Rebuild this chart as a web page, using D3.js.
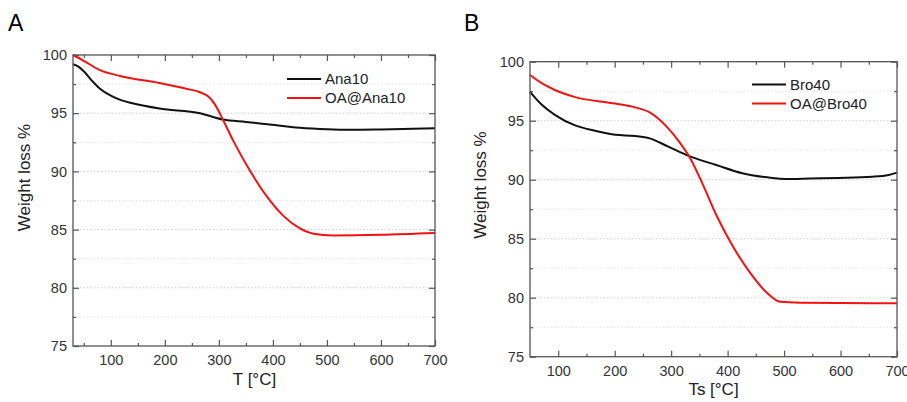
<!DOCTYPE html>
<html>
<head>
	<title>TGA curves</title>
</head>
<style type="text/css">
	html, body {margin:0px; padding:0px; background:#fff;}
	svg {display:block; font-family:"Liberation Sans", Arial, sans-serif;}
</style>
<body>

<svg width="907" height="402"></svg>

<script src="https://d3js.org/d3.v7.min.js"></script>
<script type="text/javascript">

	// values: [temperature, weight %]
	const ana10 = [[30,99.2],[40,99.0],[50,98.6],[65,97.8],[80,97.1],[100,96.5],[120,96.1],[140,95.85],
		[190,95.4],[265,95.0],[308,94.45],[350,94.25],[390,94.05],[450,93.75],[500,93.62],[542,93.57],
		[600,93.6],[700,93.7]];
	const oaAna10 = [[30,100],[50,99.5],[80,98.7],[117,98.2],[190,97.6],[240,97.1],[265,96.8],
		[280,96.45],[292,95.8],[308,94.4],[327,92.6],[357,90.1],[388,87.9],[419,86.2],[450,85.1],
		[475,84.65],[511,84.5],[600,84.55],[700,84.7]];
	const bro40 = [[50,97.45],[70,96.4],[94,95.5],[130,94.6],[165,94.15],[201,93.8],[236,93.7],
		[262,93.5],[295,92.8],[332,92.0],[380,91.25],[426,90.55],[470,90.2],[507,90.05],[546,90.1],
		[596,90.15],[656,90.25],[685,90.4],[700,90.6]];
	const oaBro40 = [[50,98.87],[70,98.2],[94,97.6],[130,97.0],[201,96.45],[236,96.13],[262,95.7],
		[292,94.5],[316,93.1],[334,91.8],[357,89.5],[381,86.9],[410,84.3],[440,82.1],[470,80.4],
		[493,79.66],[529,79.58],[600,79.55],[700,79.53]];

	const xTicks = [100, 200, 300, 400, 500, 600, 700];
	const xMinor = [50, 150, 250, 350, 450, 550, 650];
	const yTicks = [75, 80, 85, 90, 95, 100];
	const yMinor = [77.5, 82.5, 87.5, 92.5, 97.5];

	const svg = d3.select('svg');

	const panels = [
		{ letter: 'A', lx: 8, left: 73, right: 435, top: 55, bottom: 346, xmin: 30,
		  xTitle: 'T [°C]', xtx: 254.5, xty: 385, ytx: 30, yty: 177.5,
		  legX: 287, legY: 79,
		  series: [{ name: 'Ana10', data: ana10, col: '#111' }, { name: 'OA@Ana10', data: oaAna10, col: '#f21212' }] },
		{ letter: 'B', lx: 464, left: 530, right: 897, top: 61.7, bottom: 356.7, xmin: 50,
		  xTitle: 'Ts [°C]', xtx: 713.5, xty: 395, ytx: 486, yty: 185,
		  legX: 752, legY: 84.5,
		  series: [{ name: 'Bro40', data: bro40, col: '#111' }, { name: 'OA@Bro40', data: oaBro40, col: '#f21212' }] }
	];

	panels.forEach(function(p) {
		let x = d3.scaleLinear().domain([p.xmin, 700]).range([p.left, p.right]);
		let y = d3.scaleLinear().domain([75, 100]).range([p.bottom, p.top]);
		let g = svg.append('g');

		// dotted grid
		g.selectAll('.gmin').data(yMinor).enter().append('line')
			.attr('x1', p.left).attr('x2', p.right)
			.attr('y1', function(d) { return y(d); }).attr('y2', function(d) { return y(d); })
			.attr('stroke', '#e2e2e2').attr('stroke-dasharray', '1.5,2');
		g.selectAll('.gmaj').data(yTicks.slice(1, -1)).enter().append('line')
			.attr('x1', p.left).attr('x2', p.right)
			.attr('y1', function(d) { return y(d); }).attr('y2', function(d) { return y(d); })
			.attr('stroke', '#cfcfcf').attr('stroke-dasharray', '1.5,2');

		// axes, ticks pointing inward
		function ax(axis, tr, vals, size, labels, pad) {
			let a = g.append('g').attr('transform', tr)
				.call(axis.tickValues(vals).tickSize(size).tickPadding(pad)
					.tickFormat(labels ? d3.format('d') : ''));
			a.select('.domain').remove();
			a.selectAll('line').attr('stroke', '#555').attr('stroke-width', 1.2);
			a.selectAll('text').attr('fill', '#333').style('font-size', '14.5px')
				.style('font-family', '"Liberation Sans", Arial, sans-serif');
			return a;
		}
		let xMinorIn = xMinor.filter(function(d) { return d > p.xmin; });
		ax(d3.axisBottom(x), 'translate(0,' + p.bottom + ')', xTicks, -6, true, 9);
		ax(d3.axisBottom(x), 'translate(0,' + p.bottom + ')', xMinorIn, -3, false, 0);
		ax(d3.axisTop(x), 'translate(0,' + p.top + ')', xTicks, -6, false, 0);
		ax(d3.axisTop(x), 'translate(0,' + p.top + ')', xMinorIn, -3, false, 0);
		ax(d3.axisLeft(y), 'translate(' + p.left + ',0)', yTicks, -6, true, 6);
		ax(d3.axisLeft(y), 'translate(' + p.left + ',0)', yMinor, -3, false, 0);
		ax(d3.axisRight(y), 'translate(' + p.right + ',0)', yTicks, -6, false, 0);
		ax(d3.axisRight(y), 'translate(' + p.right + ',0)', yMinor, -3, false, 0);

		// curves
		let line = d3.line()
			.x(function(d) { return x(d[0]); })
			.y(function(d) { return y(d[1]); })
			.curve(d3.curveMonotoneX);
		p.series.forEach(function(s) {
			g.append('path').datum(s.data)
				.attr('d', line).attr('fill', 'none')
				.attr('stroke', s.col).attr('stroke-width', 2);
		});

		// frame
		g.append('rect')
			.attr('x', p.left).attr('y', p.top)
			.attr('width', p.right - p.left).attr('height', p.bottom - p.top)
			.attr('fill', 'none').attr('stroke', '#555').attr('stroke-width', 1.3);

		// legend
		p.series.forEach(function(s, i) {
			let ly = p.legY + i * 19;
			g.append('line').attr('x1', p.legX).attr('x2', p.legX + 34)
				.attr('y1', ly).attr('y2', ly)
				.attr('stroke', s.col).attr('stroke-width', 2);
			g.append('text').attr('x', p.legX + 38).attr('y', ly + 5.3)
				.attr('fill', '#222').style('font-size', '15px').text(s.name);
		});

		// titles
		g.append('text').attr('x', p.xtx).attr('y', p.xty)
			.attr('text-anchor', 'middle').attr('fill', '#222')
			.style('font-size', '17px').text(p.xTitle);
		g.append('text')
			.attr('transform', 'translate(' + p.ytx + ',' + p.yty + ') rotate(-90)')
			.attr('text-anchor', 'middle').attr('fill', '#222')
			.style('font-size', '17px').text('Weight loss %');
		svg.append('text').attr('x', p.lx).attr('y', 31)
			.attr('fill', '#000').style('font-size', '23px').text(p.letter);
	});

</script>
</body>
</html>
